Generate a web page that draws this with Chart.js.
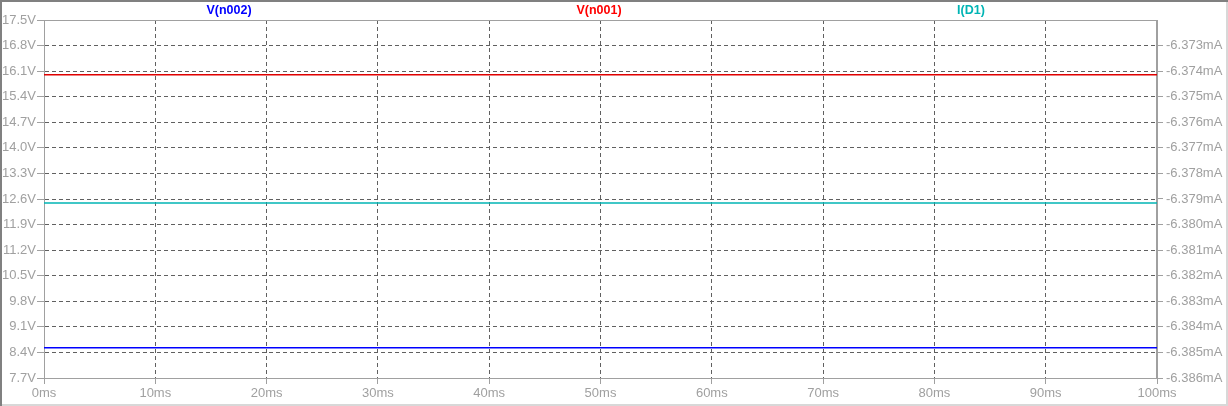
<!DOCTYPE html>
<html>
<head>
<meta charset="utf-8">
<script src="https://cdn.jsdelivr.net/npm/chart.js@4"></script>
<style>
  html, body { margin: 0; padding: 0; background: #fff; }
  #wrap { width: 1228px; height: 406px; position: relative; }
</style>
</head>
<body>
<div id="wrap"><canvas id="myChart" width="1228" height="406"></canvas></div>
<script>
// time axis (ms)
var timeMs = [0, 100];
var timeTicks = [0, 10, 20, 30, 40, 50, 60, 70, 80, 90, 100];

// series values
var vN002 = [8.53, 8.53];          // V, left axis
var vN001 = [16.0, 16.0];          // V, left axis
var iD1 = [-6.37916, -6.37916];    // mA, right axis

// tick labels
var voltTicks = [7.7, 8.4, 9.1, 9.8, 10.5, 11.2, 11.9, 12.6, 13.3, 14.0, 14.7, 15.4, 16.1, 16.8, 17.5];
var currTicks = [-6.386, -6.385, -6.384, -6.383, -6.382, -6.381, -6.380, -6.379, -6.378, -6.377, -6.376, -6.375, -6.374, -6.373];

var seriesNames = ['V(n002)', 'V(n001)', 'I(D1)'];
var seriesColors = ['#0000ff', '#ff0000', '#00b4b4'];
var lineColors = ['#0000ff', '#e00000', '#00b4b4'];

function pts(xs, ys) {
    return xs.map(function (x, i) { return { x: x, y: ys[i] }; });
}

var labelFont = { family: '"Liberation Sans", Arial, sans-serif', size: 13 };
var gray = '#a0a0a0';

// frame, plot box and the series names on top
var framePlugin = {
    id: 'frame',
    beforeDatasetsDraw: function (chart) {
        var a = chart.chartArea, ctx = chart.ctx;
        ctx.save();
        ctx.strokeStyle = '#a0a0a0';
        ctx.lineWidth = 1;
        ctx.strokeRect(Math.round(a.left) + 0.5, Math.round(a.top) + 0.5,
            Math.round(a.right - a.left) - 1, Math.round(a.bottom - a.top));
        ctx.restore();
    },
    afterDraw: function (chart) {
        var ctx = chart.ctx, w = chart.width, h = chart.height;
        ctx.save();
        ctx.lineWidth = 2;
        ctx.strokeStyle = '#d8d8d8';
        ctx.beginPath();
        ctx.moveTo(w - 1, 0); ctx.lineTo(w - 1, h - 1); ctx.lineTo(0, h - 1);
        ctx.stroke();
        ctx.strokeStyle = '#808080';
        ctx.beginPath();
        ctx.moveTo(1, h); ctx.lineTo(1, 1); ctx.lineTo(w, 1);
        ctx.stroke();

        var xs = [229, 599, 971];
        ctx.font = 'bold 12.5px "Liberation Sans", Arial, sans-serif';
        ctx.textAlign = 'center';
        ctx.textBaseline = 'middle';
        for (var i = 0; i < seriesNames.length; i++) {
            ctx.fillStyle = seriesColors[i];
            ctx.fillText(seriesNames[i], xs[i], 11);
        }
        ctx.restore();
    }
};

function createChart() {
    var ctx = document.getElementById('myChart').getContext('2d');
    var chart = new Chart(ctx, {
        type: 'line',
        data: {
            datasets: [
                { label: seriesNames[0], data: pts(timeMs, vN002), borderColor: lineColors[0], yAxisID: 'y' },
                { label: seriesNames[1], data: pts(timeMs, vN001), borderColor: lineColors[1], yAxisID: 'y' },
                { label: seriesNames[2], data: pts(timeMs, iD1), borderColor: lineColors[2], yAxisID: 'y1' }
            ]
        },
        options: {
            responsive: false,
            animation: false,
            events: [],
            layout: { padding: { top: 20, left: 0, right: 0, bottom: 0 } },
            elements: {
                point: { radius: 0 },
                line: { borderWidth: 1.5, tension: 0 }
            },
            plugins: {
                legend: { display: false },
                tooltip: { enabled: false }
            },
            scales: {
                x: {
                    type: 'linear',
                    min: 0,
                    max: 100,
                    afterBuildTicks: function (s) { s.ticks = timeTicks.map(function (v) { return { value: v }; }); },
                    afterFit: function (s) { s.height = 28; },
                    ticks: {
                        color: gray, font: labelFont, padding: 2, maxRotation: 0, autoSkip: false,
                        callback: function (v) { return v + 'ms'; }
                    },
                    grid: { color: '#606060', tickColor: gray, tickLength: 6 },
                    border: { display: true, color: gray, dash: [4, 3] }
                },
                y: {
                    position: 'left',
                    min: 7.7,
                    max: 17.5,
                    afterBuildTicks: function (s) { s.ticks = voltTicks.map(function (v) { return { value: v }; }); },
                    afterFit: function (s) { s.width = 44; },
                    ticks: {
                        color: gray, font: labelFont, padding: 1, autoSkip: false,
                        callback: function (v) { return v.toFixed(1) + 'V'; }
                    },
                    grid: { color: '#606060', tickColor: gray, tickLength: 7 },
                    border: { display: true, color: gray, dash: [4, 3] }
                },
                y1: {
                    position: 'right',
                    min: -6.386,
                    max: -6.372,
                    afterBuildTicks: function (s) { s.ticks = currTicks.map(function (v) { return { value: v }; }); },
                    afterFit: function (s) { s.width = 71; },
                    ticks: {
                        color: gray, font: labelFont, padding: 3, autoSkip: false,
                        callback: function (v) { return v.toFixed(3) + 'mA'; }
                    },
                    grid: { drawOnChartArea: false, tickColor: gray, tickLength: 6 },
                    border: { display: true, color: gray }
                }
            }
        },
        plugins: [framePlugin]
    });
}

createChart();
</script>
</body>
</html>
